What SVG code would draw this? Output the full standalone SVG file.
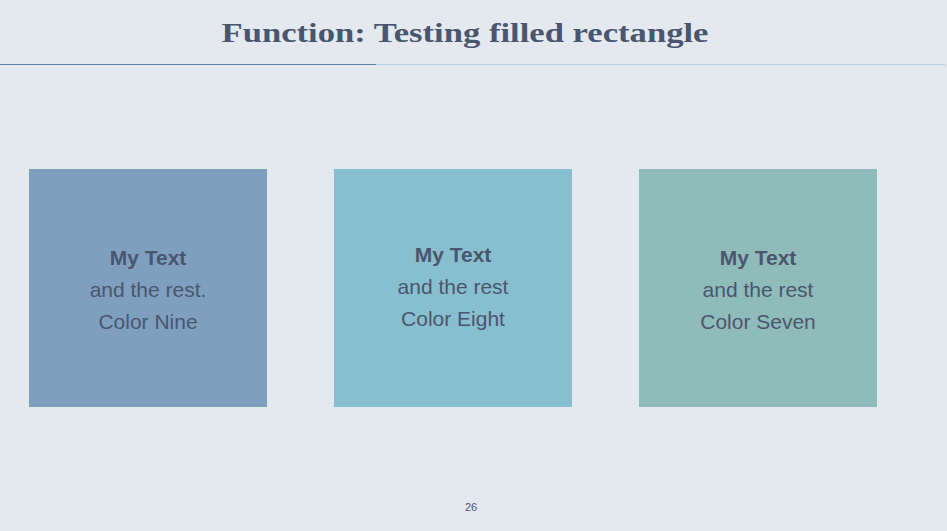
<svg xmlns="http://www.w3.org/2000/svg" width="947" height="531" viewBox="0 0 947 531">
<style>
.t{font-family:"Liberation Sans","DejaVu Sans",sans-serif;fill:#4A566E;text-anchor:middle;font-size:21px}
.b{font-weight:bold}
</style>
<rect x="0" y="0" width="947" height="531" fill="#E4E9F0"/>
<text x="465" y="42" font-family="Liberation Serif, DejaVu Serif, serif" font-weight="bold" font-size="28" fill="#4A566E" text-anchor="middle" textLength="487" lengthAdjust="spacingAndGlyphs">Function: Testing filled rectangle</text>
<line x1="0" y1="64.5" x2="376" y2="64.5" stroke="#5E82B0" stroke-width="1.2"/>
<line x1="376" y1="64.5" x2="945" y2="64.5" stroke="#B3CEDC" stroke-width="1.2"/>
<g id="box1">
<rect x="29" y="169" width="238" height="238" fill="#7F9FBF"/>
<text class="t b" x="148" y="265">My Text</text>
<text class="t" x="148" y="297">and the rest.</text>
<text class="t" x="148" y="329">Color Nine</text>
</g>
<g id="box2">
<rect x="334" y="169" width="238" height="238" fill="#88BFCF"/>
<text class="t b" x="453" y="262">My Text</text>
<text class="t" x="453" y="294">and the rest</text>
<text class="t" x="453" y="326">Color Eight</text>
</g>
<g id="box3">
<rect x="639" y="169" width="238" height="238" fill="#8FBBBA"/>
<text class="t b" x="758" y="265">My Text</text>
<text class="t" x="758" y="297">and the rest</text>
<text class="t" x="758" y="329">Color Seven</text>
</g>
<g id="connectors"/>
<text x="471" y="511" font-family="Liberation Sans, sans-serif" font-size="11" fill="#4A566E" text-anchor="middle">26</text>
</svg>
